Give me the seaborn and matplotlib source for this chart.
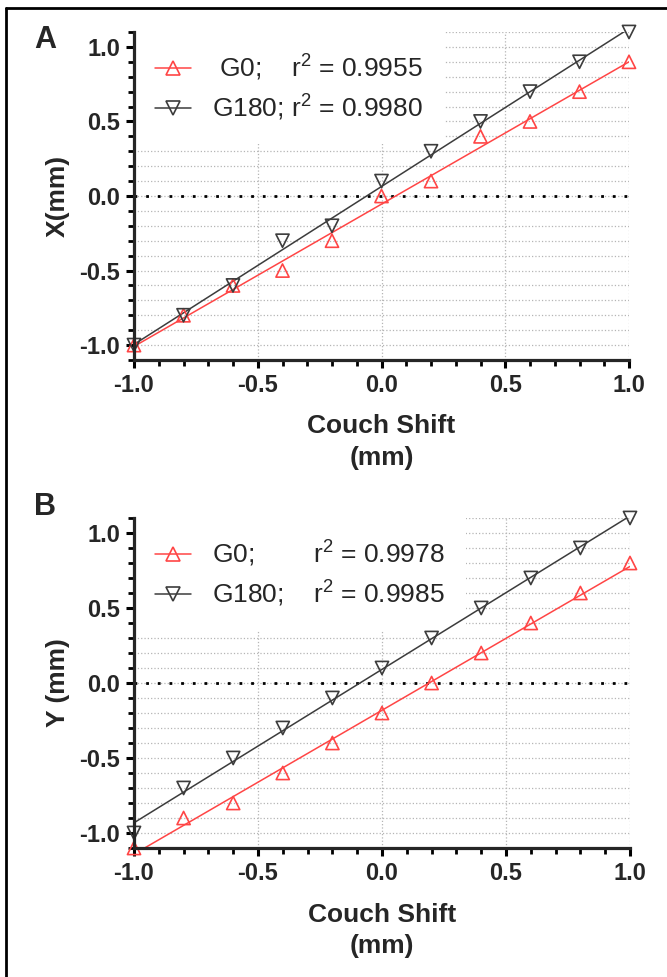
import numpy as np
import matplotlib
matplotlib.use('Agg')
import matplotlib.pyplot as plt
import seaborn as sns
from matplotlib.lines import Line2D
from matplotlib.ticker import MultipleLocator

# couch shift positions (mm)
shift = [-1.0, -0.8, -0.6, -0.4, -0.2, 0.0, 0.2, 0.4, 0.6, 0.8, 1.0]

# panel A: X (mm)
x_g0 = [-1.0, -0.8, -0.6, -0.5, -0.3, 0.0, 0.1, 0.4, 0.5, 0.7, 0.9]
x_g180 = [-1.0, -0.8, -0.6, -0.3, -0.2, 0.1, 0.3, 0.5, 0.7, 0.9, 1.1]
labels_a = [' G0;    r$^2$ = 0.9955', 'G180; r$^2$ = 0.9980']

# panel B: Y (mm)
y_g0 = [-1.1, -0.9, -0.8, -0.6, -0.4, -0.2, 0.0, 0.2, 0.4, 0.6, 0.8]
y_g180 = [-1.0, -0.7, -0.5, -0.3, -0.1, 0.1, 0.3, 0.5, 0.7, 0.9, 1.1]
labels_b = ['G0;        r$^2$ = 0.9978', 'G180;    r$^2$ = 0.9985']

RED = '#ff4545'
DARK = '#3c3c3c'

sns.set_style('ticks')
plt.rcParams['font.family'] = ['Liberation Sans', 'DejaVu Sans']
plt.rcParams['mathtext.fontset'] = 'custom'
plt.rcParams['mathtext.rm'] = 'Liberation Sans'
plt.rcParams['mathtext.default'] = 'regular'


def draw_panel(ax, v0, v180, labels, ylabel):
    ax.axhline(0, color='black', lw=2, ls=(0, (1, 3.2)), zorder=2)
    for vals, col, mk in [(v0, RED, '^'), (v180, DARK, 'v')]:
        sns.regplot(x=shift, y=vals, ci=None, marker=mk, color=col, ax=ax, truncate=True,
                    scatter_kws=dict(s=90, facecolors='none', linewidths=1.2, alpha=1,
                                     clip_on=False, zorder=4),
                    line_kws=dict(lw=1.1, zorder=3))

    ax.set_xlim(-1.0, 1.0)
    ax.set_ylim(-1.1, 1.1)
    ax.xaxis.set_major_locator(MultipleLocator(0.5))
    ax.xaxis.set_minor_locator(MultipleLocator(0.1))
    ax.yaxis.set_major_locator(MultipleLocator(0.5))
    ax.yaxis.set_minor_locator(MultipleLocator(0.1))
    ax.xaxis.set_major_formatter(matplotlib.ticker.FormatStrFormatter('%.1f'))
    ax.yaxis.set_major_formatter(matplotlib.ticker.FormatStrFormatter('%.1f'))
    ax.grid(axis='y', which='both', color='#b5b5b5', ls=':', lw=0.9, zorder=0)
    ax.grid(axis='x', which='major', color='#b5b5b5', ls=':', lw=0.9, zorder=0)
    ax.set_axisbelow(True)

    sns.despine(ax=ax)
    for side in ['left', 'bottom']:
        ax.spines[side].set_linewidth(2.3)
        ax.spines[side].set_zorder(6)
    ax.tick_params(which='major', direction='out', length=6, width=2.2, pad=4,
                   labelsize=17, color='black')
    ax.tick_params(which='minor', direction='out', length=4, width=2.0, color='black')
    for lab in ax.get_xticklabels() + ax.get_yticklabels():
        lab.set_fontweight('bold')

    ax.set_xlabel('Couch Shift\n(mm)', fontsize=19, fontweight='bold', linespacing=1.4)
    ax.set_ylabel(ylabel, fontsize=19, fontweight='bold')
    ax.xaxis.set_label_coords(0.5, -0.166)
    ax.yaxis.set_label_coords(-0.13, 0.5)

    handles = [Line2D([], [], color=RED, marker='^', mfc='none', ms=9.5, lw=1.1, mew=1.2),
               Line2D([], [], color=DARK, marker='v', mfc='none', ms=9.5, lw=1.1, mew=1.2)]
    leg = ax.legend(handles, labels, loc='upper left', fontsize=19, frameon=True,
                    facecolor='white', edgecolor='none', framealpha=1, fancybox=False,
                    borderaxespad=0, borderpad=0.8, handlelength=1.35, handletextpad=0.8,
                    labelspacing=0.35)
    # keep the legend box under the data lines, above the grid
    leg.set_zorder(1.5)


fig = plt.figure(figsize=(6.67, 9.77), dpi=100)
ax_a = fig.add_axes([134 / 667, 1 - 360 / 977, 495 / 667, 328 / 977])
ax_b = fig.add_axes([134 / 667, 1 - 848 / 977, 496 / 667, 330 / 977])

draw_panel(ax_a, x_g0, x_g180, labels_a, 'X(mm)')
draw_panel(ax_b, y_g0, y_g180, labels_b, 'Y (mm)')

fig.text(45 / 667, 1 - 40 / 977, 'A', fontsize=22, fontweight='bold', ha='center', va='center')
fig.text(45 / 667, 1 - 507 / 977, 'B', fontsize=22, fontweight='bold', ha='center', va='center')

# frame lines along top and left edge
fig.add_artist(Line2D([6 / 667, 1], [1 - 7.5 / 977, 1 - 7.5 / 977], transform=fig.transFigure,
                      color='black', lw=2))
fig.add_artist(Line2D([6 / 667, 6 / 667], [0, 1 - 7.5 / 977], transform=fig.transFigure,
                      color='black', lw=2))

fig.savefig('out.png', dpi=100)
